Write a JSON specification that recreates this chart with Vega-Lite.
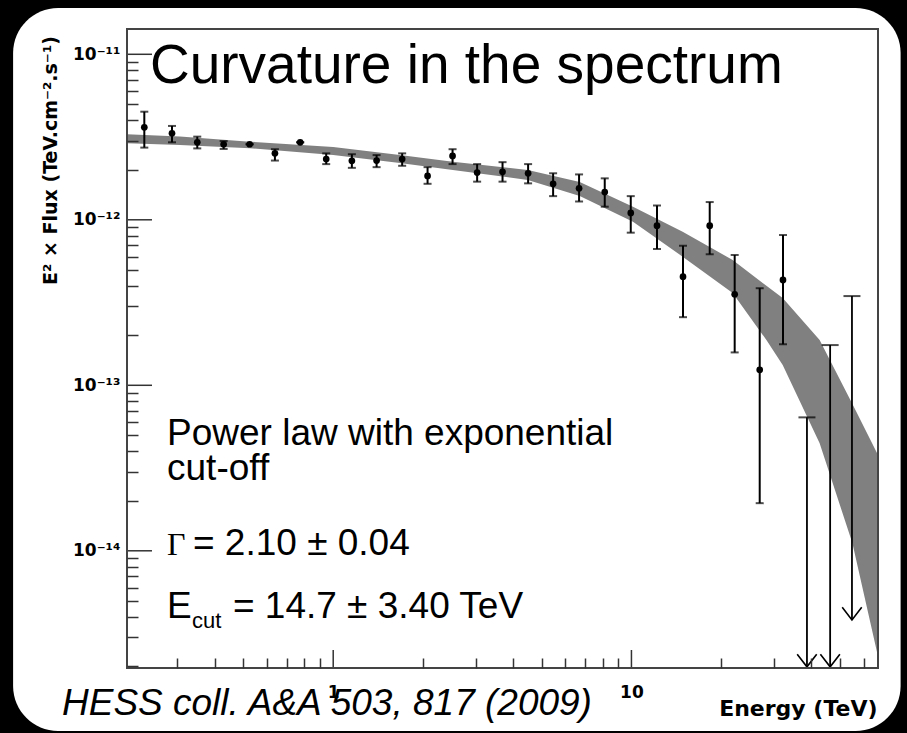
{
 "$schema": "https://vega.github.io/schema/vega-lite/v6.json",
 "width": 751, "height": 639,
 "autosize": {"type": "none"},
 "padding": {"left": 127, "top": 29, "right": 29, "bottom": 65},
 "background": "black",
 "config": {"view": {"stroke": null}},
 "datasets": {
  "pts": [
   {"E": 0.2326, "F": 3.62e-12, "lo": 2.73e-12, "hi": 4.50e-12},
   {"E": 0.2880, "F": 3.33e-12, "lo": 2.94e-12, "hi": 3.69e-12},
   {"E": 0.3501, "F": 2.94e-12, "lo": 2.70e-12, "hi": 3.18e-12},
   {"E": 0.4292, "F": 2.86e-12, "lo": 2.68e-12, "hi": 2.99e-12},
   {"E": 0.5245, "F": 2.86e-12, "lo": 2.86e-12, "hi": 2.86e-12},
   {"E": 0.6376, "F": 2.52e-12, "lo": 2.28e-12, "hi": 2.67e-12},
   {"E": 0.7749, "F": 2.94e-12, "lo": 2.94e-12, "hi": 2.94e-12},
   {"E": 0.9474, "F": 2.33e-12, "lo": 2.17e-12, "hi": 2.52e-12},
   {"E": 1.155, "F": 2.27e-12, "lo": 2.06e-12, "hi": 2.49e-12},
   {"E": 1.398, "F": 2.28e-12, "lo": 2.08e-12, "hi": 2.46e-12},
   {"E": 1.703, "F": 2.33e-12, "lo": 2.12e-12, "hi": 2.52e-12},
   {"E": 2.072, "F": 1.84e-12, "lo": 1.65e-12, "hi": 2.08e-12},
   {"E": 2.513, "F": 2.43e-12, "lo": 2.17e-12, "hi": 2.67e-12},
   {"E": 3.038, "F": 1.93e-12, "lo": 1.70e-12, "hi": 2.17e-12},
   {"E": 3.696, "F": 1.95e-12, "lo": 1.70e-12, "hi": 2.23e-12},
   {"E": 4.503, "F": 1.91e-12, "lo": 1.66e-12, "hi": 2.17e-12},
   {"E": 5.462, "F": 1.65e-12, "lo": 1.39e-12, "hi": 1.91e-12},
   {"E": 6.674, "F": 1.55e-12, "lo": 1.29e-12, "hi": 1.88e-12},
   {"E": 8.137, "F": 1.47e-12, "lo": 1.20e-12, "hi": 1.78e-12},
   {"E": 9.947, "F": 1.10e-12, "lo": 8.36e-13, "hi": 1.39e-12},
   {"E": 12.18, "F": 9.21e-13, "lo": 6.66e-13, "hi": 1.22e-12},
   {"E": 14.89, "F": 4.53e-13, "lo": 2.58e-13, "hi": 6.97e-13},
   {"E": 18.30, "F": 9.21e-13, "lo": 6.19e-13, "hi": 1.28e-12},
   {"E": 22.19, "F": 3.55e-13, "lo": 1.58e-13, "hi": 6.13e-13},
   {"E": 26.92, "F": 1.24e-13, "lo": 1.94e-14, "hi": 3.86e-13},
   {"E": 32.22, "F": 4.33e-13, "lo": 1.77e-13, "hi": 8.09e-13}
  ],
  "ul": [
   {"E": 38.77, "ul": 6.40e-14, "tip": 1.99e-15},
   {"E": 46.37, "ul": 1.75e-13, "tip": 1.99e-15},
   {"E": 54.88, "ul": 3.46e-13, "tip": 3.82e-15}
  ],
  "band": [
   {"E": 0.2035, "lo": 2.898e-12, "hi": 3.286e-12},
   {"E": 0.3063, "lo": 2.831e-12, "hi": 3.187e-12},
   {"E": 0.5260, "lo": 2.704e-12, "hi": 2.963e-12},
   {"E": 1.0, "lo": 2.463e-12, "hi": 2.754e-12},
   {"E": 1.673, "lo": 2.203e-12, "hi": 2.463e-12},
   {"E": 2.518, "lo": 2.000e-12, "hi": 2.244e-12},
   {"E": 4.493, "lo": 1.740e-12, "hi": 2.000e-12},
   {"E": 6.709, "lo": 1.392e-12, "hi": 1.692e-12},
   {"E": 10.12, "lo": 9.739e-13, "hi": 1.200e-12},
   {"E": 14.85, "lo": 5.984e-13, "hi": 8.474e-13},
   {"E": 21.85, "lo": 3.611e-13, "hi": 5.715e-13},
   {"E": 28.35, "lo": 1.878e-13, "hi": 3.99e-13},
   {"E": 32.15, "lo": 1.327e-13, "hi": 3.369e-13},
   {"E": 42.76, "lo": 4.461e-14, "hi": 1.878e-13},
   {"E": 55.08, "lo": 1.110e-14, "hi": 7.71e-14},
   {"E": 67.1, "lo": 2.3e-15, "hi": 3.792e-14}
  ],
  "xdecades": [{"v": 1}, {"v": 10}],
  "ydecades": [{"v": 1e-14}, {"v": 1e-13}, {"v": 1e-12}, {"v": 1e-11}]
 },
 "resolve": {"axis": {"x": "independent", "y": "independent"}},
 "layer": [
  {
   "data": {"values": [{}]},
   "mark": {"type": "rect", "fill": "white", "cornerRadius": 45},
   "encoding": {
    "x": {"datum": 0.08446, "type": "quantitative", "scale": {"type": "log", "domain": [0.2035, 67.1], "nice": false}, "axis": null},
    "x2": {"datum": 79.9},
    "y": {"datum": 1.905e-11, "type": "quantitative", "scale": {"type": "log", "domain": [1.958e-15, 1.4218e-11], "nice": false}, "axis": null},
    "y2": {"datum": 8.15e-16}
   }
  },
  {
   "data": {"name": "band"},
   "mark": {"type": "area", "fill": "#808080", "clip": true},
   "encoding": {
    "x": {"field": "E", "type": "quantitative", "scale": {"type": "log", "domain": [0.2035, 67.1], "nice": false},
     "axis": {"orient": "bottom", "values": [0.3,0.4,0.5,0.6,0.7,0.8,0.9,2,3,4,5,6,7,8,9,20,30,40,50,60], "labels": false, "domain": false, "grid": false, "tickSize": -10, "tickColor": "#333333", "tickWidth": 1.5, "title": null, "zindex": 1}},
    "y": {"field": "lo", "type": "quantitative", "scale": {"type": "log", "domain": [1.958e-15, 1.4218e-11], "nice": false},
     "axis": {"orient": "left", "values": [2e-15,3e-15,4e-15,5e-15,6e-15,7e-15,8e-15,9e-15,2e-14,3e-14,4e-14,5e-14,6e-14,7e-14,8e-14,9e-14,2e-13,3e-13,4e-13,5e-13,6e-13,7e-13,8e-13,9e-13,2e-12,3e-12,4e-12,5e-12,6e-12,7e-12,8e-12,9e-12], "labels": false, "domain": false, "grid": false, "tickSize": -11, "tickColor": "#333333", "tickWidth": 1.5, "title": null, "zindex": 1}},
    "y2": {"field": "hi"}
   }
  },
  {
   "data": {"name": "xdecades"},
   "mark": {"type": "rule", "color": "#333333", "strokeWidth": 1.5},
   "encoding": {
    "x": {"field": "v", "type": "quantitative", "scale": {"type": "log", "domain": [0.2035, 67.1], "nice": false}, "axis": null},
    "y": {"datum": 1.958e-15, "type": "quantitative", "scale": {"type": "log", "domain": [1.958e-15, 1.4218e-11], "nice": false}, "axis": null},
    "y2": {"datum": 2.516e-15}
   }
  },
  {
   "data": {"name": "ydecades"},
   "mark": {"type": "rule", "color": "#333333", "strokeWidth": 1.5},
   "encoding": {
    "x": {"datum": 0.2035, "type": "quantitative", "scale": {"type": "log", "domain": [0.2035, 67.1], "nice": false}, "axis": null},
    "x2": {"datum": 0.2468},
    "y": {"field": "v", "type": "quantitative", "scale": {"type": "log", "domain": [1.958e-15, 1.4218e-11], "nice": false}, "axis": null}
   }
  },
  {
   "data": {"name": "pts"},
   "mark": {"type": "rule", "color": "black", "strokeWidth": 2},
   "encoding": {
    "x": {"field": "E", "type": "quantitative", "scale": {"type": "log", "domain": [0.2035, 67.1], "nice": false},
     "axis": {"orient": "bottom", "values": [1, 10], "labelExpr": "datum.value < 5 ? '1' : '10'", "domain": false, "grid": false, "ticks": false, "labelPadding": 16, "labelFont": "DejaVu Sans", "labelFontWeight": "bold", "labelFontSize": 17, "labelColor": "black", "labelBaseline": "top", "labelAlign": "center", "zindex": 2,
      "title": "Energy (TeV)", "titleFont": "DejaVu Sans", "titleFontWeight": "bold", "titleFontSize": 22, "titleColor": "black", "titleAlign": "right", "titleBaseline": "middle", "titleX": 750, "titleY": 40}},
    "y": {"field": "lo", "type": "quantitative", "scale": {"type": "log", "domain": [1.958e-15, 1.4218e-11], "nice": false},
     "axis": {"orient": "left", "values": [1e-14, 1e-13, 1e-12, 1e-11], "labelExpr": "'10' + (datum.value > 5e-12 ? '⁻¹¹' : datum.value > 5e-13 ? '⁻¹²' : datum.value > 5e-14 ? '⁻¹³' : '⁻¹⁴')", "domain": false, "grid": false, "ticks": false, "labelPadding": 7, "labelFont": "DejaVu Sans", "labelFontWeight": "bold", "labelFontSize": 17, "labelColor": "black", "labelAlign": "right", "labelBaseline": "middle", "zindex": 2,
      "title": "E² × Flux (TeV.cm⁻².s⁻¹)", "titleFont": "DejaVu Sans", "titleFontWeight": "bold", "titleFontSize": 19, "titleColor": "black", "titleAngle": 270, "titleAlign": "center", "titleBaseline": "middle", "titleX": -77, "titleY": 131}},
    "y2": {"field": "hi"}
   }
  },
  {
   "data": {"name": "pts"},
   "mark": {"type": "tick", "orient": "horizontal", "color": "black", "size": 8, "thickness": 2},
   "encoding": {
    "x": {"field": "E", "type": "quantitative", "scale": {"type": "log", "domain": [0.2035, 67.1], "nice": false}, "axis": null},
    "y": {"field": "lo", "type": "quantitative", "scale": {"type": "log", "domain": [1.958e-15, 1.4218e-11], "nice": false}, "axis": null}
   }
  },
  {
   "data": {"name": "pts"},
   "mark": {"type": "tick", "orient": "horizontal", "color": "black", "size": 8, "thickness": 2},
   "encoding": {
    "x": {"field": "E", "type": "quantitative", "scale": {"type": "log", "domain": [0.2035, 67.1], "nice": false}, "axis": null},
    "y": {"field": "hi", "type": "quantitative", "scale": {"type": "log", "domain": [1.958e-15, 1.4218e-11], "nice": false}, "axis": null}
   }
  },
  {
   "data": {"name": "pts"},
   "mark": {"type": "circle", "color": "black", "size": 45, "opacity": 1},
   "encoding": {
    "x": {"field": "E", "type": "quantitative", "scale": {"type": "log", "domain": [0.2035, 67.1], "nice": false}, "axis": null},
    "y": {"field": "F", "type": "quantitative", "scale": {"type": "log", "domain": [1.958e-15, 1.4218e-11], "nice": false}, "axis": null}
   }
  },
  {
   "data": {"name": "ul"},
   "mark": {"type": "rule", "color": "black", "strokeWidth": 1.8},
   "encoding": {
    "x": {"field": "E", "type": "quantitative", "scale": {"type": "log", "domain": [0.2035, 67.1], "nice": false}, "axis": null},
    "y": {"field": "ul", "type": "quantitative", "scale": {"type": "log", "domain": [1.958e-15, 1.4218e-11], "nice": false}, "axis": null},
    "y2": {"field": "tip"}
   }
  },
  {
   "data": {"name": "ul"},
   "mark": {"type": "tick", "orient": "horizontal", "color": "black", "size": 17, "thickness": 2},
   "encoding": {
    "x": {"field": "E", "type": "quantitative", "scale": {"type": "log", "domain": [0.2035, 67.1], "nice": false}, "axis": null},
    "y": {"field": "ul", "type": "quantitative", "scale": {"type": "log", "domain": [1.958e-15, 1.4218e-11], "nice": false}, "axis": null}
   }
  },
  {
   "data": {"name": "ul"},
   "mark": {"type": "point", "shape": "M-1,-1.3L0,0L1,-1.3", "filled": false, "color": "black", "strokeWidth": 1.6, "size": 380, "opacity": 1},
   "encoding": {
    "x": {"field": "E", "type": "quantitative", "scale": {"type": "log", "domain": [0.2035, 67.1], "nice": false}, "axis": null},
    "y": {"field": "tip", "type": "quantitative", "scale": {"type": "log", "domain": [1.958e-15, 1.4218e-11], "nice": false}, "axis": null}
   }
  },
  {
   "data": {"values": [{}]},
   "mark": {"type": "rect", "fill": null, "fillOpacity": 0, "stroke": "#444444", "strokeWidth": 2},
   "encoding": {
    "x": {"datum": 0.2035, "type": "quantitative", "scale": {"type": "log", "domain": [0.2035, 67.1], "nice": false}, "axis": null},
    "x2": {"datum": 67.1},
    "y": {"datum": 1.4218e-11, "type": "quantitative", "scale": {"type": "log", "domain": [1.958e-15, 1.4218e-11], "nice": false}, "axis": null},
    "y2": {"datum": 1.958e-15}
   }
  },
  {
   "data": {"values": [{}]},
   "mark": {"type": "text", "text": "Curvature in the spectrum", "align": "left", "baseline": "alphabetic", "font": "Liberation Sans", "fontSize": 55, "color": "black"},
   "encoding": {
    "x": {"datum": 0.2430, "type": "quantitative", "scale": {"type": "log", "domain": [0.2035, 67.1], "nice": false}, "axis": null},
    "y": {"datum": 6.708e-12, "type": "quantitative", "scale": {"type": "log", "domain": [1.958e-15, 1.4218e-11], "nice": false}, "axis": null}
   }
  },
  {
   "data": {"values": [{}]},
   "mark": {"type": "text", "text": ["Power law with exponential", "cut-off"], "align": "left", "baseline": "alphabetic", "font": "Liberation Sans", "fontSize": 37, "lineHeight": 35, "color": "black"},
   "encoding": {
    "x": {"datum": 0.2772, "type": "quantitative", "scale": {"type": "log", "domain": [0.2035, 67.1], "nice": false}, "axis": null},
    "y": {"datum": 4.357e-14, "type": "quantitative", "scale": {"type": "log", "domain": [1.958e-15, 1.4218e-11], "nice": false}, "axis": null}
   }
  },
  {
   "data": {"values": [{}]},
   "mark": {"type": "text", "text": "Γ", "align": "left", "baseline": "alphabetic", "font": "Liberation Serif", "fontSize": 32, "color": "black"},
   "encoding": {
    "x": {"datum": 0.2772, "type": "quantitative", "scale": {"type": "log", "domain": [0.2035, 67.1], "nice": false}, "axis": null},
    "y": {"datum": 9.43e-15, "type": "quantitative", "scale": {"type": "log", "domain": [1.958e-15, 1.4218e-11], "nice": false}, "axis": null}
   }
  },
  {
   "data": {"values": [{}]},
   "mark": {"type": "text", "text": "= 2.10 ± 0.04", "align": "left", "baseline": "alphabetic", "font": "Liberation Sans", "fontSize": 37, "color": "black"},
   "encoding": {
    "x": {"datum": 0.3387, "type": "quantitative", "scale": {"type": "log", "domain": [0.2035, 67.1], "nice": false}, "axis": null},
    "y": {"datum": 9.43e-15, "type": "quantitative", "scale": {"type": "log", "domain": [1.958e-15, 1.4218e-11], "nice": false}, "axis": null}
   }
  },
  {
   "data": {"values": [{}]},
   "mark": {"type": "text", "text": "E", "align": "left", "baseline": "alphabetic", "font": "Liberation Sans", "fontSize": 37, "color": "black"},
   "encoding": {
    "x": {"datum": 0.2772, "type": "quantitative", "scale": {"type": "log", "domain": [0.2035, 67.1], "nice": false}, "axis": null},
    "y": {"datum": 3.926e-15, "type": "quantitative", "scale": {"type": "log", "domain": [1.958e-15, 1.4218e-11], "nice": false}, "axis": null}
   }
  },
  {
   "data": {"values": [{}]},
   "mark": {"type": "text", "text": "cut", "align": "left", "baseline": "alphabetic", "font": "Liberation Sans", "fontSize": 22, "color": "black"},
   "encoding": {
    "x": {"datum": 0.3361, "type": "quantitative", "scale": {"type": "log", "domain": [0.2035, 67.1], "nice": false}, "axis": null},
    "y": {"datum": 3.418e-15, "type": "quantitative", "scale": {"type": "log", "domain": [1.958e-15, 1.4218e-11], "nice": false}, "axis": null}
   }
  },
  {
   "data": {"values": [{}]},
   "mark": {"type": "text", "text": "= 14.7 ± 3.40 TeV", "align": "left", "baseline": "alphabetic", "font": "Liberation Sans", "fontSize": 37, "color": "black"},
   "encoding": {
    "x": {"datum": 0.4611, "type": "quantitative", "scale": {"type": "log", "domain": [0.2035, 67.1], "nice": false}, "axis": null},
    "y": {"datum": 3.926e-15, "type": "quantitative", "scale": {"type": "log", "domain": [1.958e-15, 1.4218e-11], "nice": false}, "axis": null}
   }
  },
  {
   "data": {"values": [{}]},
   "mark": {"type": "text", "text": "HESS coll. A&A 503, 817 (2009)", "align": "left", "baseline": "alphabetic", "font": "Liberation Sans", "fontStyle": "italic", "fontSize": 37, "color": "black"},
   "encoding": {
    "x": {"datum": 0.1232, "type": "quantitative", "scale": {"type": "log", "domain": [0.2035, 67.1], "nice": false}, "axis": null},
    "y": {"datum": 1.018e-15, "type": "quantitative", "scale": {"type": "log", "domain": [1.958e-15, 1.4218e-11], "nice": false}, "axis": null}
   }
  }
 ]
}
